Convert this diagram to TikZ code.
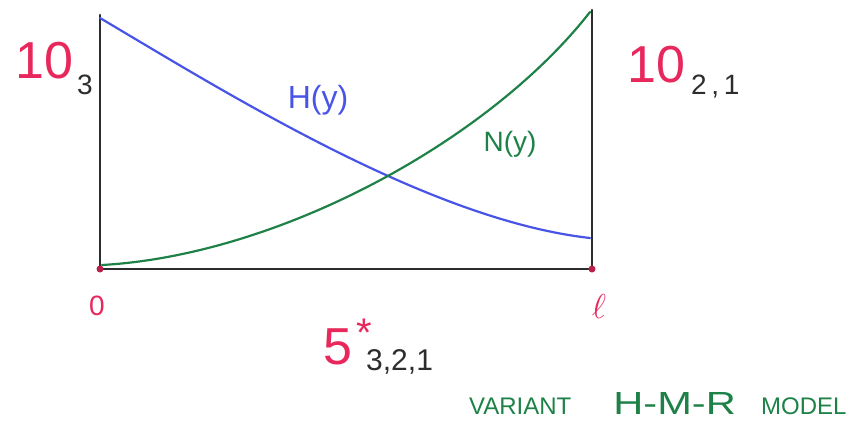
\documentclass[tikz,border=0pt]{standalone}
\usepackage{fontspec}
\setmainfont{Liberation Sans}
\definecolor{pinkred}{RGB}{232,40,92}
\definecolor{penblue}{RGB}{72,84,232}
\definecolor{pengreen}{RGB}{30,130,72}
\definecolor{pencil}{RGB}{45,45,45}
\begin{document}
\begin{tikzpicture}[x=0.5pt,y=-0.5pt,line width=1.1pt,line cap=round]
	\tikzset{big/.style={text=pinkred,inner sep=0pt,font=\fontsize{26}{26}\selectfont},
		sub/.style={text=pencil,inner sep=0pt,font=\fontsize{14}{14}\selectfont}}
	\useasboundingbox (0,0) rectangle (850,423);
	\path
	(100,269)coordinate(O)
	(592,269)coordinate(L)
	(100,15)coordinate(T)
	(592,10)coordinate(R)
	;
	% frame
	\draw[pencil] (T)--(O)--(L)--(R);
	% profiles
	\draw[penblue] (100,18) .. controls (230,95) and (430,220) .. (590,238);
	\draw[pengreen] (102,265) .. controls (280,255) and (490,140) .. (590,12);
	\foreach \p in {O,L}\fill[pinkred!80!black](\p) circle (3.5);
	% labels
	\node[big,anchor=base west] (c3) at (14,78) {10};
	\node[sub,anchor=base west] (s3) at (c3.base east) [yshift=-8pt,xshift=1pt] {3};
	\node[big,anchor=base west] (c21) at (626,82) {10};
	\node[sub,anchor=base west] (s21) at (c21.base east) [yshift=-6pt,xshift=2pt] {2\,,\,1};
	\node[text=pinkred,font=\fontsize{14}{14}\selectfont] (zero) at (97,306) {0};
	\node[text=pinkred,font=\fontsize{16}{16}\selectfont] (ell) at (599,306) {$\ell$};
	\node[big,anchor=base west] (five) at (322,364) {5};
	\node[text=pinkred,anchor=south west,inner sep=0pt,font=\fontsize{20}{20}\selectfont] (star) at (five.north east) [yshift=-10pt,xshift=1pt] {*};
	\node[sub,anchor=base west,font=\fontsize{15}{15}\selectfont] (s321) at (five.base east) [yshift=-3pt,xshift=6pt] {3,2,1};
	\node[text=penblue,font=\fontsize{16}{16}\selectfont] (H) at (318,100) {H(y)};
	\node[text=pengreen,font=\fontsize{14}{14}\selectfont] (N) at (510,144) {N(y)};
	\node[text=pengreen,anchor=base west,inner sep=0pt,font=\fontsize{12}{12}\selectfont] (var) at (468,414) {VARIANT};
	\node[text=pengreen,anchor=base west,inner sep=0pt,xscale=1.3,font=\fontsize{16}{16}\selectfont] (hmr) at (612,414) {H-M-R};
	\node[text=pengreen,anchor=base west,inner sep=0pt,font=\fontsize{12}{12}\selectfont] (model) at (760,414) {MODEL};
\end{tikzpicture}
\end{document}
